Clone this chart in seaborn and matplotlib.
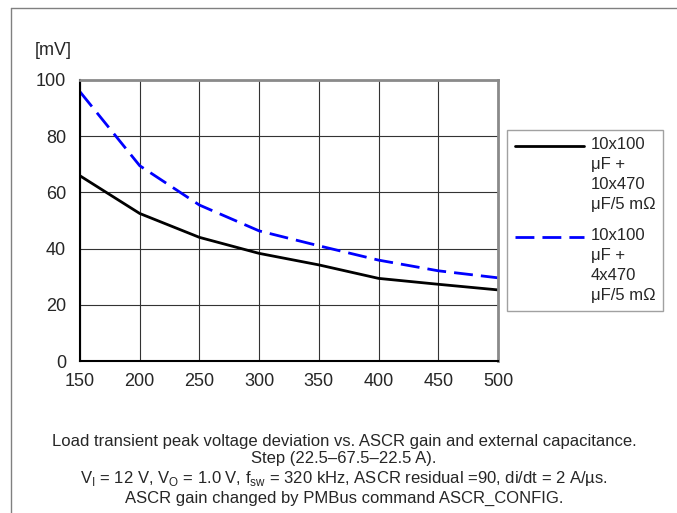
import matplotlib
matplotlib.use("Agg")
import matplotlib.pyplot as plt
import seaborn as sns
import pandas as pd
from matplotlib.lines import Line2D
from matplotlib.legend_handler import HandlerLine2D

ascr_gain = [150, 200, 250, 300, 350, 400, 450, 500]
cap_10x470 = [65.9, 52.5, 44.0, 38.3, 34.2, 29.4, 27.3, 25.3]
cap_4x470 = [95.8, 69.5, 55.5, 46.3, 41.0, 35.9, 32.1, 29.6]
series_labels = ["10x100\nμF +\n10x470\nμF/5 mΩ", "10x100\nμF +\n4x470\nμF/5 mΩ"]
x_ticks = [150, 200, 250, 300, 350, 400, 450, 500]
y_ticks = [0, 20, 40, 60, 80, 100]
caption = ("Load transient peak voltage deviation vs. ASCR gain and external capacitance.\n"
           "Step (22.5–67.5–22.5 A).\n"
           "V$_\\mathregular{I}$ = 12 V, V$_\\mathregular{O}$ = 1.0 V, f$_\\mathregular{sw}$ = 320 kHz, "
           "ASCR residual =90, di/dt = 2 A/µs.\n"
           "ASCR gain changed by PMBus command ASCR_CONFIG.")

sns.set_style("white")
plt.rcParams['font.family'] = ['Liberation Sans', 'DejaVu Sans']
plt.rcParams['mathtext.fontset'] = 'custom'
plt.rcParams['mathtext.rm'] = 'Liberation Sans'

df = pd.concat([
    pd.DataFrame({"x": ascr_gain, "y": cap_10x470, "s": series_labels[0]}),
    pd.DataFrame({"x": ascr_gain, "y": cap_4x470, "s": series_labels[1]}),
])

fig = plt.figure(figsize=(6.77, 5.13), dpi=100)
ax = fig.add_axes([80/677, 1-361/513, (498-80)/677, (361-80)/513])

DASH = (6.8, 2.9)
sns.lineplot(data=df, x="x", y="y", hue="s", style="s",
             palette={series_labels[0]: "black", series_labels[1]: "#0000ff"},
             dashes={series_labels[0]: "", series_labels[1]: DASH},
             linewidth=2.0, ax=ax, legend=False)

ax.set_xlim(150, 500)
ax.set_ylim(0, 100)
ax.set_xticks(x_ticks)
ax.set_yticks(y_ticks)
ax.set_xlabel("")
ax.set_ylabel("")
ax.grid(True, color="#333333", linewidth=0.8)
ax.set_axisbelow(True)
ax.tick_params(axis="y", direction="out", length=4, width=1, color="black", labelsize=13, pad=6)
ax.tick_params(axis="x", direction="out", length=2, width=1, color="black", labelsize=13, pad=7)
for side in ["left", "bottom"]:
    ax.spines[side].set_color("black")
    ax.spines[side].set_linewidth(1.5)
for side in ["top", "right"]:
    ax.spines[side].set_color("#8a8a8a")
    ax.spines[side].set_linewidth(2.0)
    ax.spines[side].set_visible(True)

fig.text(35/677, 1-51/513, "[mV]", fontsize=13, ha="left", va="center")


class TopHandler(HandlerLine2D):
    def __init__(self, shift, **kw):
        super().__init__(**kw)
        self.shift = shift

    def create_artists(self, legend, orig_handle, xdescent, ydescent, width, height,
                       fontsize, trans):
        arts = super().create_artists(legend, orig_handle, xdescent, ydescent, width,
                                      height, fontsize, trans)
        for a in arts:
            a.set_ydata([y + self.shift for y in a.get_ydata()])
        return arts


LEG_FS = 12
LEG_LS = 1.42
handles = [Line2D([], [], color="black", linewidth=2.0),
           Line2D([], [], color="#0000ff", linewidth=2.0, dashes=DASH)]
shift = 1.5 * 14.0
leg = fig.legend(handles, series_labels, loc="upper left",
                 bbox_to_anchor=(507/677, 1-129.5/513), fontsize=LEG_FS,
                 frameon=True, fancybox=False, edgecolor="#8a8a8a",
                 handlelength=4.15, handletextpad=0.42, borderpad=0.45,
                 labelspacing=0.95, borderaxespad=0,
                 handler_map={h: TopHandler(shift) for h in handles})
leg.get_frame().set_linewidth(1.0)
for t in leg.get_texts():
    t.set_linespacing(LEG_LS)

fig.text(344/677, 1-470/513, caption, fontsize=12, ha="center", va="center",
         linespacing=1.22)

# outer border lines (top and left)
fig.add_artist(Line2D([11/677, 1], [1-8/513, 1-8/513], color="#808080", linewidth=1.0,
                      transform=fig.transFigure))
fig.add_artist(Line2D([11/677, 11/677], [0, 1-8/513], color="#808080", linewidth=1.0,
                      transform=fig.transFigure))

fig.savefig("out.png", dpi=100)
